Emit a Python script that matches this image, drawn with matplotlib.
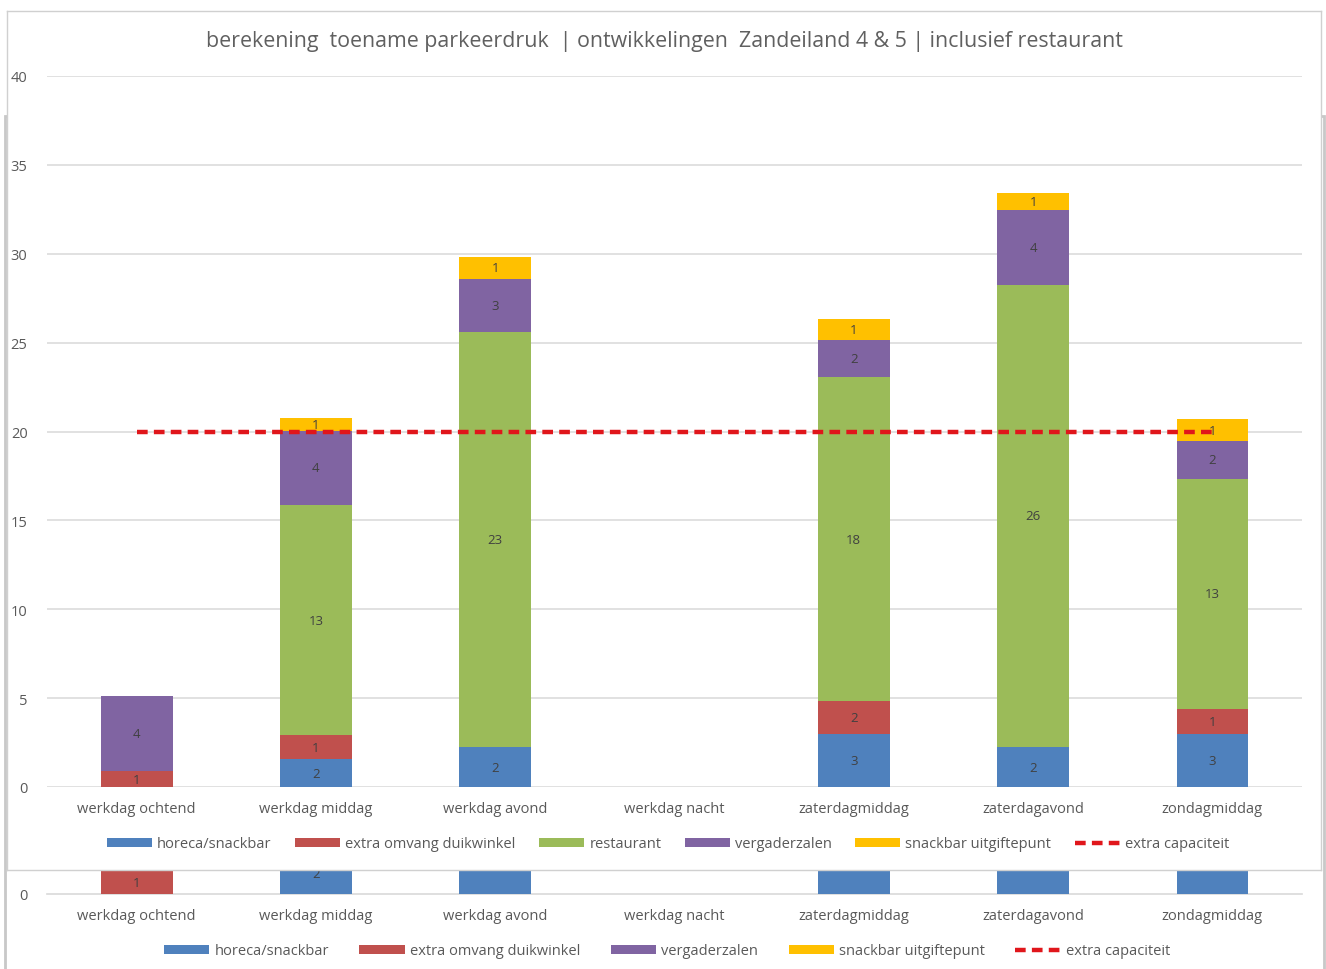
import matplotlib
matplotlib.use("Agg")
import matplotlib.pyplot as plt
from matplotlib.patches import Rectangle, Patch
from matplotlib.lines import Line2D
import numpy as np

# ── data ──
categories = ["werkdag ochtend", "werkdag middag", "werkdag avond", "werkdag nacht",
              "zaterdagmiddag", "zaterdagavond", "zondagmiddag"]
horeca = [0, 1.55, 2.25, 0, 3.0, 2.25, 3.0]
duikwinkel = [0.9, 1.35, 0, 0, 1.85, 0, 1.4]
restaurant = [0, 12.95, 23.35, 0, 18.2, 26.0, 12.95]
vergaderzalen = [4.2, 4.2, 3.0, 0, 2.1, 4.2, 2.1]
snackbar = [0, 0.7, 1.24, 0, 1.2, 0.95, 1.24]
capaciteit = [20, 20, 20, 20, 20, 20, 20]

title = "berekening  toename parkeerdruk  | ontwikkelingen  Zandeiland 4 & 5 | inclusief restaurant"

# ── style ──
BLUE = "#4F81BD"
RED = "#C0504D"
GREEN = "#9BBB59"
PURPLE = "#8064A2"
YELLOW = "#FFC000"
LINE_RED = "#E0161B"
TEXT = "#595959"
LABEL = "#404040"
GRID = "#D9D9D9"
FONT = "Open Sans"

plt.rcParams["font.family"] = [FONT, "DejaVu Sans"]

W, H = 1326, 970
fig = plt.figure(figsize=(W / 100, H / 100), dpi=100)
fig.patch.set_facecolor("white")


def box(left, top, right, bottom):
    return [left / W, 1 - bottom / H, (right - left) / W, (bottom - top) / H]


# frame of the chart lying behind the main one
fig.patches.append(Rectangle((5 / W, -0.01), (1324 - 5) / W, 1 - 117 / H + 0.01,
                             transform=fig.transFigure, facecolor="white",
                             edgecolor="#C8C8C8", linewidth=2, zorder=0))

x = np.arange(len(categories))
series = [("horeca/snackbar", horeca, BLUE),
          ("extra omvang duikwinkel", duikwinkel, RED),
          ("restaurant", restaurant, GREEN),
          ("vergaderzalen", vergaderzalen, PURPLE),
          ("snackbar uitgiftepunt", snackbar, YELLOW)]
LINE_KW = dict(color=LINE_RED, linewidth=3.2, dashes=(2.4, 1.4))
LEG_KW = dict(frameon=False, fontsize=10.5, labelcolor=TEXT, handlelength=3.1,
              handleheight=0.6, handletextpad=0.35)


def style_axes(ax):
    ax.set_facecolor("none")
    for s in ax.spines.values():
        s.set_visible(False)
    ax.tick_params(length=0, colors=TEXT)
    ax.set_xlim(-0.5, len(categories) - 0.5)
    ax.set_xticks(x)
    ax.set_xticklabels(categories)


# ── behind chart (only its lower strip shows, no restaurant series) ──
ax2 = fig.add_axes(box(47, 872, 1302, 895))
ax2.set_zorder(0.5)
style_axes(ax2)
ymax2 = 0.88
ax2.set_ylim(0, ymax2)
ax2.set_yticks([0])
ax2.tick_params(axis="y", pad=14, labelsize=10.5)
ax2.tick_params(axis="x", pad=10, labelsize=10.5)
ax2.axhline(0, color=GRID, linewidth=1.2, clip_on=False)
bottom = np.zeros(len(categories))
for name, vals, col in series:
    if name == "restaurant":
        continue
    bars = ax2.bar(x, vals, 0.4, bottom=bottom, color=col, zorder=3)
    for b, v in zip(bars, vals):
        yc = b.get_y() + b.get_height() / 2
        if v > 0 and yc < ymax2 + 0.1:
            ax2.text(b.get_x() + b.get_width() / 2, yc, f"{v:.0f}",
                     ha="center", va="center", fontsize=9.5, color=LABEL,
                     clip_on=True, zorder=4)
    bottom += np.array(vals)

h2 = [Patch(facecolor=c, label=n) for n, v, c in series if n != "restaurant"]
h2.append(Line2D([], [], label="extra capaciteit", **LINE_KW))
fig.legend(handles=h2, loc="center", bbox_to_anchor=(667 / W, 1 - 952 / H),
           ncol=len(h2), columnspacing=2.1, **LEG_KW)

# white panel of the main chart, covering the one behind
cover = fig.add_axes(box(7, 12, 1321, 871))
cover.set_zorder(1)
cover.set_xticks([])
cover.set_yticks([])
cover.set_facecolor("white")
for s in cover.spines.values():
    s.set_color("#D0D0D0")
    s.set_linewidth(1)

# ── main chart ──
ax = fig.add_axes(box(47, 77, 1302, 788))
ax.set_zorder(2)
style_axes(ax)
ax.set_ylim(0, 40)
ax.set_yticks(range(0, 41, 5))
ax.tick_params(axis="y", pad=14, labelsize=10.5)
ax.tick_params(axis="x", pad=10, labelsize=10.5)
ax.grid(axis="y", color=GRID, linewidth=1.1, zorder=0)
ax.set_axisbelow(True)

bottom = np.zeros(len(categories))
handles = []
for name, vals, col in series:
    bars = ax.bar(x, vals, 0.4, bottom=bottom, color=col, label=name, zorder=3)
    labels = [f"{v:.0f}" if v > 0 else "" for v in vals]
    ax.bar_label(bars, labels=labels, label_type="center", fontsize=9.5, color=LABEL)
    bottom += np.array(vals)
    handles.append(bars)

line, = ax.plot(x, capaciteit, label="extra capaciteit", zorder=5, **LINE_KW)
handles.append(line)

ax.legend(handles=handles, loc="center", bbox_to_anchor=(668 / W, 1 - 845 / H),
          bbox_transform=fig.transFigure, ncol=6, columnspacing=1.6, **LEG_KW)

fig.text(664 / W, 1 - 41 / H, title, ha="center", va="center",
         fontsize=15.4, color="#606060", zorder=3)

fig.savefig("out.png", dpi=100, facecolor="white")
